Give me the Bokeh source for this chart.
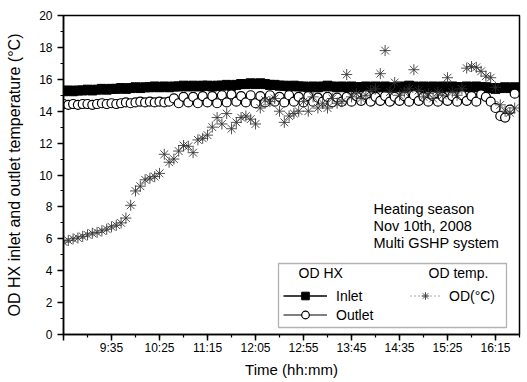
from bokeh.plotting import figure
from bokeh.models import Range1d, FixedTicker, Legend, LegendItem, BoxAnnotation, Label
from bokeh.embed import file_html
from bokeh.resources import INLINE

# ---- data ----
start_time = "8:45"
step_min = 5

inlet = [15.25, 15.3, 15.25, 15.3, 15.3, 15.35, 15.3, 15.35, 15.4, 15.35,
         15.4, 15.4, 15.45, 15.4, 15.45, 15.5, 15.45, 15.5, 15.5, 15.55,
         15.5, 15.55, 15.5, 15.55, 15.55, 15.6, 15.55, 15.6, 15.55, 15.6,
         15.6, 15.55, 15.6, 15.6, 15.65, 15.6, 15.65, 15.7, 15.7, 15.75,
         15.7, 15.75, 15.7, 15.65, 15.65, 15.6, 15.6, 15.55, 15.6, 15.55,
         15.55, 15.5, 15.55, 15.5, 15.55, 15.6, 15.55, 15.5, 15.55, 15.5,
         15.55, 15.5, 15.5, 15.55, 15.5, 15.55, 15.5, 15.55, 15.5, 15.5,
         15.55, 15.5, 15.6, 15.55, 15.5, 15.55, 15.5, 15.55, 15.5, 15.55,
         15.5, 15.55, 15.5, 15.5, 15.55, 15.5, 15.55, 15.5, 15.5, 15.45,
         15.4, 15.45, 15.5, 15.45, 15.5]

outlet = [14.45, 14.4, 14.45, 14.4, 14.45, 14.45, 14.4, 14.45, 14.5, 14.45,
          14.5, 14.45, 14.5, 14.55, 14.5, 14.55, 14.6, 14.55, 14.6, 14.55,
          14.6, 14.55, 14.6, 14.8, 14.5, 14.9, 14.55, 14.9, 14.5, 14.95,
          14.55, 14.95, 14.5, 15.0, 14.55, 15.05, 14.6, 14.95, 14.55, 15.0,
          14.5, 14.95, 14.55, 15.0, 14.6, 14.9, 14.55, 15.0, 14.6, 14.9,
          14.55, 14.95, 14.6, 14.85, 14.6, 14.9, 14.55, 14.85, 14.6, 14.9,
          14.6, 14.95, 14.65, 15.0, 14.6, 14.9, 14.65, 14.95, 14.6, 14.9,
          14.65, 14.95, 14.6, 15.0, 14.65, 14.9, 14.6, 14.95, 14.6, 14.9,
          14.65, 14.95, 14.6, 15.0, 14.65, 14.95, 14.6, 15.05, 14.9, 14.6,
          14.2, 13.7, 13.6, 14.1, 15.1]

od = [5.8, 5.9, 6.0, 6.05, 6.15, 6.25, 6.35, 6.4, 6.5, 6.6,
      6.75, 6.85, 7.0, 7.3, 8.1, 9.0, 9.3, 9.7, 9.8, 9.9,
      10.1, 11.3, 10.8, 11.0, 11.5, 11.85, 11.8, 11.4, 12.2, 12.3,
      12.5, 13.0, 13.6, 13.2, 13.85, 12.9, 13.3, 13.6, 13.7, 13.5,
      13.2, 14.2, 14.7, 14.6, 14.8, 14.0, 13.3, 13.7, 13.85, 14.0,
      14.6, 14.0, 14.9, 14.2, 14.5, 14.2, 14.8, 14.5, 14.6, 16.3,
      14.9, 15.1, 14.8, 15.0, 15.3, 15.4, 16.35, 17.8, 15.2, 15.8,
      15.0, 15.2, 15.4, 16.6, 15.3, 14.9, 15.1, 14.8, 15.2, 15.0,
      16.1, 15.2, 15.0, 15.4, 16.7, 16.8, 16.75, 16.5, 16.2, 16.1,
      15.5, 14.4, 14.0, 13.9, 14.2]

x_tick_labels = ["9:35", "10:25", "11:15", "12:05", "12:55", "13:45", "14:35", "15:25", "16:15"]
y_ticks = [0, 2, 4, 6, 8, 10, 12, 14, 16, 18, 20]


def to_min(s):
    h, m = s.split(":")
    return int(h) * 60 + int(m)


t0 = to_min(start_time)
time_min = [t0 + i * step_min for i in range(len(inlet))]
x_ticks = [to_min(s) for s in x_tick_labels]

FONT = "Liberation Sans"
NAN = float("nan")

p = figure(width=525, height=382, output_backend="svg", toolbar_location=None,
           x_range=Range1d(525, 1000), y_range=Range1d(0, 20),
           min_border_left=63, min_border_right=6, min_border_top=15, min_border_bottom=48)
p.grid.visible = False
p.outline_line_color = "black"
p.outline_line_width = 1.5
p.background_fill_color = "white"
p.border_fill_color = "white"

# axes
xa = p.xaxis[0]
xa.ticker = FixedTicker(ticks=[t0] + x_ticks, minor_ticks=list(range(t0, 1001, 25)))
overrides = {t0: ""}
overrides.update(dict(zip(x_ticks, x_tick_labels)))
xa.major_label_overrides = overrides
xa.axis_label = "Time (hh:mm)"
ya = p.yaxis[0]
ya.ticker = FixedTicker(ticks=y_ticks, minor_ticks=[v + 1 for v in y_ticks[:-1]])
ya.axis_label = "OD HX inlet and outlet temperature (°C)"
for ax in (xa, ya):
    ax.axis_line_color = "black"
    ax.axis_line_width = 1.5
    ax.major_tick_line_color = "black"
    ax.major_tick_line_width = 1.5
    ax.minor_tick_line_color = "black"
    ax.minor_tick_line_width = 1.2
    ax.major_tick_in = 0
    ax.major_tick_out = 6
    ax.minor_tick_in = 0
    ax.minor_tick_out = 3
    ax.major_label_text_font = FONT
    ax.major_label_text_font_size = "12px"
    ax.major_label_text_color = "black"
    ax.axis_label_text_font = FONT
    ax.axis_label_text_font_style = "normal"
    ax.axis_label_text_color = "black"
xa.axis_label_text_font_size = "15px"
ya.axis_label_text_font_size = "16px"
xa.major_label_standoff = 0
xa.axis_label_standoff = 3
ya.major_label_standoff = 5
ya.axis_label_standoff = 13

# data
r_in = p.scatter(time_min, inlet, marker="square", size=9, fill_color="black", line_color="black")
r_out = p.scatter(time_min, outlet, marker="circle", size=9, fill_color="white",
                  line_color="black", line_width=1.2)
r_od = p.scatter(time_min, od, marker="asterisk", size=11, line_color="#333333",
                 line_alpha=0.85, line_width=1)

# legend sample lines (no data)
l_in = p.line([NAN], [NAN], line_color="black", line_width=1.5)
l_out = p.line([NAN], [NAN], line_color="black", line_width=1)
l_od = p.line([NAN], [NAN], line_color="#555555", line_width=1, line_dash="1 3")

box = BoxAnnotation(left=215, right=443, bottom=7, top=71,
                    left_units="screen", right_units="screen",
                    bottom_units="screen", top_units="screen",
                    fill_color="white", fill_alpha=1.0, line_color="black", line_width=1.3)
p.add_layout(box)

common = dict(border_line_alpha=0, background_fill_alpha=0, padding=0, margin=0, spacing=0,
              glyph_height=19, label_height=19, label_standoff=9,
              label_text_font=FONT, label_text_font_size="14px", label_text_color="black")
leg1 = Legend(items=[LegendItem(label="Inlet", renderers=[l_in, r_in]),
                     LegendItem(label="Outlet", renderers=[l_out, r_out])],
              location=(220, 10), glyph_width=44, **common)
leg2 = Legend(items=[LegendItem(label="OD(°C)", renderers=[l_od, r_od])],
              location=(347, 29), glyph_width=30, **common)
p.add_layout(leg1)
p.add_layout(leg2)

for txt, x in (("OD HX", 235), ("OD temp.", 365)):
    p.add_layout(Label(x=x, y=62, x_units="screen", y_units="screen", text=txt,
                       text_font=FONT, text_font_size="14px", text_baseline="middle",
                       text_color="black"))

for txt, y in (("Heating season", 126), ("Nov 10th, 2008", 109), ("Multi GSHP system", 92)):
    p.add_layout(Label(x=310, y=y, x_units="screen", y_units="screen", text=txt,
                       text_font=FONT, text_font_size="14.5px", text_baseline="middle",
                       text_color="black"))

open("out.html", "w").write(file_html(p, INLINE))
